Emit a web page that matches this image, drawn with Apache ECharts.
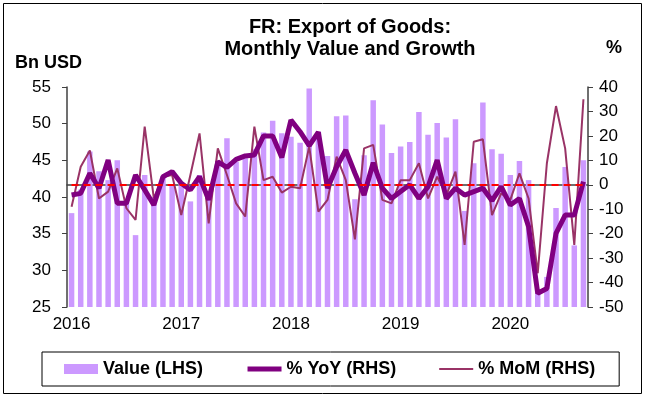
<!DOCTYPE html>
<html>
<head>
<meta charset="utf-8">
<script src="https://cdn.jsdelivr.net/npm/echarts@6/dist/echarts.min.js"></script>
<style>
  html, body { margin: 0; padding: 0; background: #fff; }
</style>
</head>
<body>
<!-- chart container -->
<div id="main" style="width: 646px;height:401px;"></div>
<script>
// months Jan 2016 .. Sep 2020
var months = [
  '2016-01','2016-02','2016-03','2016-04','2016-05','2016-06','2016-07','2016-08','2016-09','2016-10','2016-11','2016-12',
  '2017-01','2017-02','2017-03','2017-04','2017-05','2017-06','2017-07','2017-08','2017-09','2017-10','2017-11','2017-12',
  '2018-01','2018-02','2018-03','2018-04','2018-05','2018-06','2018-07','2018-08','2018-09','2018-10','2018-11','2018-12',
  '2019-01','2019-02','2019-03','2019-04','2019-05','2019-06','2019-07','2019-08','2019-09','2019-10','2019-11','2019-12',
  '2020-01','2020-02','2020-03','2020-04','2020-05','2020-06','2020-07','2020-08','2020-09'
];

// export value, bn USD (LHS)
var exportValue = [
  37.8, 41.0, 46.2, 43.5, 42.3, 45.0, 39.5, 34.8, 43.0, 40.0, 42.8, 41.5,
  42.0, 39.4, 43.0, 40.8, 45.0, 48.0, 44.8, 45.3, 46.5, 48.8, 50.4, 48.7,
  48.2, 47.4, 54.8, 48.9, 45.6, 51.0, 51.1, 39.7, 45.7, 53.2, 49.9, 46.0,
  46.9, 47.5, 51.6, 48.5, 50.1, 48.1, 50.6, 38.1, 44.6, 52.9, 46.5, 45.9,
  43.0, 44.9, 42.3, 27.0, 29.1, 38.5, 44.1, 33.4, 45.0
];

// % YoY (RHS)
var yoy = [
  -4.2, -3.5, 4.7, -1.4, 10.1, -7.6, -7.6, 4.0, -2.1, -8.3, 3.3, 5.4,
  0.6, -2.1, 3.3, -6.2, 9.4, 7.1, 10.4, 11.8, 12.2, 20.0, 20.0, 11.2,
  26.5, 21.7, 16.0, 21.5, -1.4, 7.4, 14.2, 4.7, -4.2, 9.0, -1.4, -5.6,
  -2.8, 0.0, -5.6, -0.8, 10.1, -5.6, -1.4, -4.2, -2.8, -1.4, -6.5, -0.8,
  -8.3, -5.6, -17.2, -44.4, -42.4, -19.9, -12.4, -12.4, 1.3
];

// % MoM (RHS)
var mom = [
  -9.0, 7.4, 14.0, -5.6, -2.8, 6.7, -9.6, -14.4, 23.8, -5.6, 3.3, 4.0,
  -12.4, 4.0, 21.0, -15.8, 14.9, 4.0, -7.6, -13.0, 23.8, 1.9, 3.3, -3.2,
  -0.8, -1.4, 15.6, -11.0, -6.2, 11.5, 1.9, -22.3, 14.9, 16.3, -6.2, -7.6,
  1.9, 1.9, 8.8, -5.6, 3.3, -4.2, 5.4, -24.6, 17.6, 18.6, -12.4, -3.5,
  -6.2, 4.7, -5.6, -36.2, 8.8, 32.2, 14.9, -24.6, 35.0
];

var leftTicks = { min: 25, max: 55, interval: 5 };
var rightTicks = { min: -50, max: 40, interval: 10 };

var FONT = 'Liberation Sans, Arial, sans-serif';
var axisColor = '#404040';
// hide the circle that echarts puts on line legend icons
var noDot = { color: 'rgba(0,0,0,0)', borderWidth: 0, opacity: 0 };

var myChart = echarts.init(document.getElementById('main'));

var option = {
  animation: false,
  graphic: [
    // outer frame
    { type: 'rect', shape: { x: 3.5, y: 3.5, width: 638, height: 390 },
      style: { fill: 'none', stroke: '#000', lineWidth: 1 }, silent: true },
    { type: 'text', x: 350, y: 16,
      style: { text: 'FR: Export of Goods:\nMonthly Value and Growth', align: 'center',
        font: 'bold 20px ' + FONT, lineHeight: 22, fill: '#000' } },
    { type: 'text', x: 15, y: 54,
      style: { text: 'Bn USD', font: 'bold 18px ' + FONT, fill: '#000' } },
    { type: 'text', x: 606, y: 39,
      style: { text: '%', font: 'bold 18px ' + FONT, fill: '#000' } }
  ],
  legend: {
    left: 42, top: 352,
    padding: [8, 24, 8, 22],
    itemGap: 42,
    itemWidth: 34, itemHeight: 10,
    borderColor: '#000', borderWidth: 1,
    textStyle: { fontFamily: FONT, fontWeight: 'bold', fontSize: 18, color: '#000' },
    data: [
      { name: 'Value (LHS)', icon: 'rect' },
      { name: '% YoY (RHS)', itemStyle: noDot, lineStyle: { width: 5, color: '#800080' } },
      { name: '% MoM (RHS)', itemStyle: noDot, lineStyle: { width: 2, color: '#993366' } }
    ]
  },
  grid: { left: 67, right: 58, top: 87, bottom: 94 },
  xAxis: {
    type: 'category',
    data: months,
    boundaryGap: true,
    axisLine: { lineStyle: { color: axisColor, width: 1.5 } },
    axisTick: { interval: 11, length: 5, lineStyle: { color: axisColor } },
    axisLabel: {
      interval: 11, margin: 9,
      fontFamily: FONT, fontSize: 17, color: '#000',
      formatter: function (v) { return v.slice(0, 4); }
    },
    splitLine: { show: false }
  },
  yAxis: [
    {
      type: 'value', min: leftTicks.min, max: leftTicks.max, interval: leftTicks.interval,
      axisLine: { show: true, lineStyle: { color: axisColor, width: 1.5 } },
      axisTick: { show: true, length: 5, lineStyle: { color: axisColor } },
      axisLabel: { margin: 16, fontFamily: FONT, fontSize: 17, color: '#000' },
      splitLine: { show: false }
    },
    {
      type: 'value', min: rightTicks.min, max: rightTicks.max, interval: rightTicks.interval,
      axisLine: { show: true, lineStyle: { color: axisColor, width: 1.5 } },
      axisTick: { show: true, length: 5, lineStyle: { color: axisColor } },
      axisLabel: { margin: 11, fontFamily: FONT, fontSize: 17, color: '#000' },
      splitLine: { show: false }
    }
  ],
  series: [
    {
      name: 'Value (LHS)',
      type: 'bar',
      yAxisIndex: 0,
      barWidth: '60%',
      itemStyle: { color: '#cc99ff' },
      data: exportValue
    },
    {
      name: '% YoY (RHS)',
      type: 'line',
      yAxisIndex: 1,
      symbol: 'none',
      lineStyle: { color: '#800080', width: 5 },
      itemStyle: { color: '#800080' },
      data: yoy,
      z: 4
    },
    {
      name: '% MoM (RHS)',
      type: 'line',
      yAxisIndex: 1,
      symbol: 'none',
      lineStyle: { color: '#993366', width: 2 },
      itemStyle: { color: '#993366' },
      data: mom,
      z: 3,
      // red dashed zero line
      markLine: {
        silent: true, symbol: 'none', label: { show: false },
        lineStyle: { color: '#ff0000', type: [7, 5], width: 2 },
        data: [[
          { coord: [months[0], 0] },
          { coord: [months[months.length - 1], 0] }
        ]]
      }
    }
  ]
};

myChart.setOption(option);
</script>
</body>
</html>
